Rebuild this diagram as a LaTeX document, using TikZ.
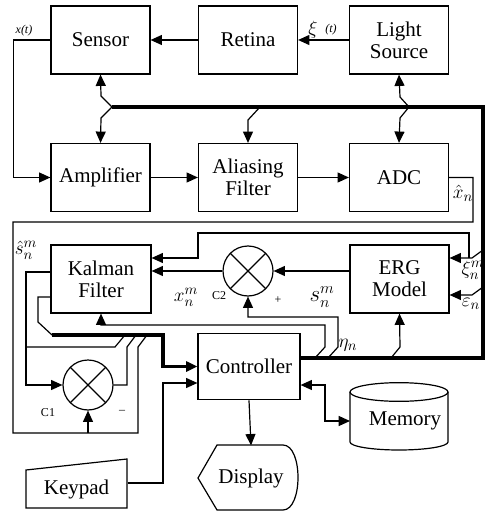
\documentclass[tikz,border=0pt]{standalone}
\usepackage{fontspec}
\setmainfont{Liberation Serif}
\usetikzlibrary{arrows.meta}
\begin{document}
\begin{tikzpicture}[x=0.75pt,y=-0.75pt,>={Triangle[length=8.5pt,width=7.5pt]},line width=0.9pt,
  box/.style={draw,minimum width=74.25pt,minimum height=51pt,align=center,inner sep=0pt,font=\fontsize{15.75}{16.5}\selectfont},
  mult/.style={draw,circle,minimum size=37.5pt,inner sep=0pt,path picture={
    \draw (path picture bounding box.north west)--(path picture bounding box.south east)
          (path picture bounding box.north east)--(path picture bounding box.south west);}},
  bus/.style={line width=2.6pt},
  lab/.style={font=\fontsize{15}{16}\selectfont,inner sep=0pt},
  tag/.style={font=\fontsize{9}{10}\selectfont,inner sep=0pt}]
\useasboundingbox (0,0) rectangle (486,513);
% top row
\node[box] (sensor) at (100.5,40) {Sensor};
\node[box] (retina) at (248,40) {Retina};
\node[box] (light) at (399,40) {Light\\Source};
% second row
\node[box] (amp) at (100.5,177.5) {Amplifier};
\node[box] (alias) at (248,177.5) {Aliasing\\Filter};
\node[box] (adc) at (399,177.5) {ADC};
% estimator
\node[box,minimum width=75pt] (kalman) at (101,279) {Kalman\\Filter};
\node[box] (erg) at (399.5,279) {ERG\\Model};
\node[mult] (c2) at (248,271) {};
\node[mult] (c1) at (88,385) {};
\node[box,minimum width=76.5pt,minimum height=50pt] (ctrl) at (249,366.5) {Controller};
\node[font=\fontsize{15.75}{16.5}\selectfont,minimum width=73.5pt,inner sep=0pt] (mem) at (405,421) {Memory};
\node[font=\fontsize{15.75}{16.5}\selectfont,minimum width=75pt,minimum height=48pt,inner sep=0pt] (disp) at (251,478) {Display};
\node[font=\fontsize{15.75}{16.5}\selectfont,minimum width=75.75pt,minimum height=28pt,inner sep=0pt] (keypad) at (76.5,489) {Keypad};
% odd shapes
\draw (399,392) ellipse [x radius=36.75pt,y radius=7pt];
\draw (350,392) -- (350,442) arc[start angle=180,end angle=360,x radius=36.75pt,y radius=6pt] -- (448,392);
\draw (198,478) -- (217,445) -- (283,445) .. controls (303,445) and (303,510) .. (283,510) -- (217,510) -- cycle;
\draw (26,470) -- (127,459) -- (127,508) -- (26,508) -- cycle;
% bus
\coordinate (bl) at (112,107);
\coordinate (br) at (483,107);
\coordinate (bb) at (483,358);
\coordinate (tapA) at (260,107);
\coordinate (tapL) at (409,107);
\coordinate (tapX) at (483,250);
\coordinate (tapEps) at (483,287);
\coordinate (tapE) at (391,358);
\coordinate (tapC) at (328,358);
\coordinate (tapK) at (315,358);
\draw[bus] (ctrl.east |- bb) -- (bb) -- (br) -- (bl);
\draw[->] (bl) -- ++(-11,-11) -- (sensor.south);
\draw[->] (bl) -- ++(-11,11) -- (amp.north);
\draw[->] (tapA) -- ++(-12,13) -- (alias.north);
\draw[->] (tapL) -- ++(-9,-10) -- (light.south);
\draw[->] (tapL) -- ++(-9,11) -- (adc.north);
% signal chain
\draw[->] (light.west) -- (retina.east);
\draw[->] (retina.west) -- (sensor.east);
\draw[->] (sensor.west) -- ++(-37,0) |- (amp.west);
\draw[->] (amp.east) -- (alias.west);
\draw[->] (alias.east) -- (adc.west);
\coordinate (xbot) at (13,433);
\draw (adc.east) -| (473,222) -| (xbot) -| (138,347) -- (147,335);
\draw[->] (c1.south |- xbot) -- (c1.south);
% model and filter
\draw[->] (tapX) -- ++(-11,8) -- ([yshift=15.75pt]erg.east);
\draw[->] (469,258) |- (198,233) |- ([yshift=15.75pt]kalman.east);
\draw[->] (tapEps) -- ++(-11,8) -- ([yshift=-12pt]erg.east);
\draw[->] (tapE) -- ++(9,-11) -- (erg.south);
\draw[->] (c2.east -| erg.west) -- (c2.east);
\draw[->] (c2.west) -- (c2.west -| kalman.east);
\draw[->] (tapC) -- ++(10,-11) -- ++(0,-30) -| (c2.south);
\draw[->] (tapK) -- ++(10,-11) -- ++(0,-22) -| (kalman.south);
\draw[->] ([yshift=5.25pt]kalman.west) -| (26,385) -- (c1.west);
\draw (26,347) -- (115,347) -- (125,335);
\draw ([yshift=-13.5pt]kalman.west) -| (38,322) -- (52,335);
\draw[bus,->] (52,335) -| (163,366.5) -- (ctrl.west);
\draw (c1.east) -| (127,347) -- (136,335);
% controller
\coordinate (kin) at (163,383);
\draw[->] ([yshift=4.5pt]keypad.east) -| (kin) -- (kin -| ctrl.west);
\coordinate (mcorner) at (325,385);
\draw[<->] (mem.west -| 350,0) -| (mcorner) -- (mcorner -| ctrl.east);
\draw[->] (ctrl.south) -- (disp.north);
% labels
\node[tag,font=\fontsize{9}{10}\selectfont\itshape] (lxt) at (24,31) {x(t)};
\node[lab] (lxi) at (313,30) {$\xi$};
\node[tag,font=\fontsize{9}{10}\selectfont\itshape] (lt) at (331,30) {(t)};
\node[lab] (lxh) at (463,193) {$\hat{x}_n$};
\node[lab] (lsh) at (26,250) {$\hat{s}^m_n$};
\node[lab] (lxm) at (186,297) {$x^m_n$};
\node[tag] (lc2) at (219,296) {C2};
\node[tag] (lplus) at (278,300) {+};
\node[lab,font=\fontsize{17}{18}\selectfont] (lsm) at (322,297) {$s^m_n$};
\node[lab] (leta) at (348,345) {$\eta_n$};
\node[lab] (lxim) at (473,270) {$\xi^m_n$};
\node[lab] (leps) at (471,304) {$\varepsilon_n$};
\node[tag] (lc1) at (48,413) {C1};
\node[tag] (lminus) at (122,412) {--};
\end{tikzpicture}
\end{document}
